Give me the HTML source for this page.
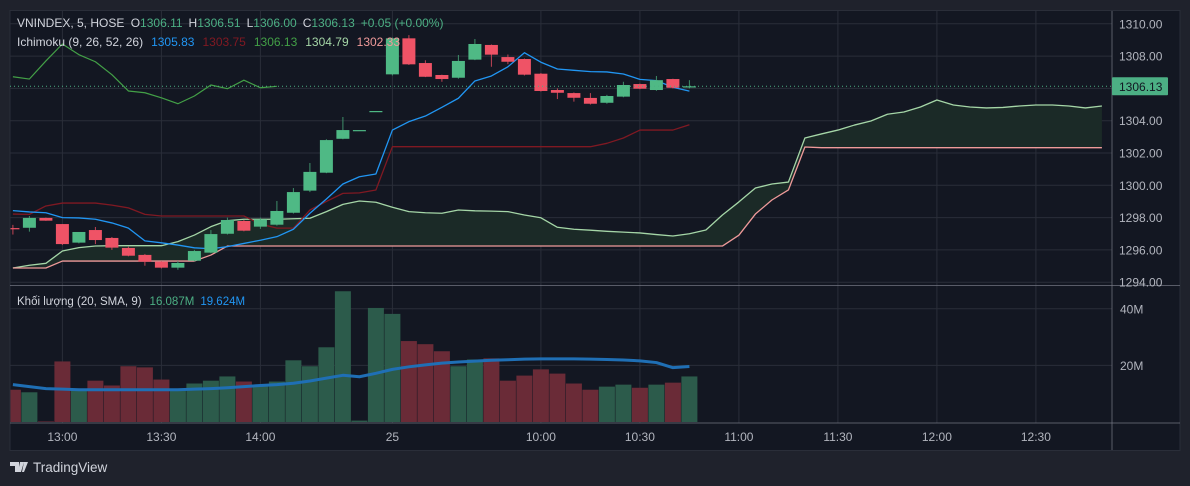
<!DOCTYPE html>
<html><head><meta charset="utf-8"><style>
html,body{margin:0;padding:0;background:#1f222c;width:1190px;height:486px;overflow:hidden;font-family:"Liberation Sans","Noto Sans CJK SC",sans-serif}
svg{display:block}
</style></head><body>
<svg id="c" width="1190" height="486" xmlns="http://www.w3.org/2000/svg">
<defs><clipPath id="plot"><rect x="10.5" y="11" width="1101" height="412"/></clipPath></defs>
<rect x="0" y="0" width="1190" height="486" fill="#1f222c"/>
<rect x="10" y="10.5" width="1170" height="440" fill="#131722" stroke="#2a2e39"/>
<g id="grid"></g>
<g clip-path="url(#plot)">
<g id="cloud"></g>
<g id="vol"></g>
<g id="lines"></g>
<g id="candles"></g>
</g>
<g id="axes"></g>
<g font-size="12">
<text x="17" y="27" fill="#d1d4dc">VNINDEX, 5, HOSE <tspan dx="3">O</tspan><tspan fill="#4caf84">1306.11</tspan><tspan dx="6">H</tspan><tspan fill="#4caf84">1306.51</tspan><tspan dx="6">L</tspan><tspan fill="#4caf84">1306.00</tspan><tspan dx="6">C</tspan><tspan fill="#4caf84">1306.13</tspan><tspan dx="6" fill="#4caf84">+0.05 (+0.00%)</tspan></text>
<text x="17" y="46" fill="#d1d4dc">Ichimoku (9, 26, 52, 26)<tspan dx="8" fill="#2196f3">1305.83</tspan><tspan dx="8" fill="#801922">1303.75</tspan><tspan dx="8" fill="#43a047">1306.13</tspan><tspan dx="8" fill="#a5d6a7">1304.79</tspan><tspan dx="8" fill="#ef9a9a">1302.33</tspan></text>
<text x="17" y="305" fill="#d1d4dc" font-size="11.5">Khối lượng (20, SMA, 9)<tspan dx="8" fill="#4caf84">16.087M</tspan><tspan dx="6" fill="#2196f3">19.624M</tspan></text>
</g>
<g>
<path d="M10 462h9v10h-4v-6h-5z M20 462h4l-3 10h-3z M24 462h4l-4 10h-2z" fill="#d1d4dc"/>
<text x="33" y="472" fill="#d1d4dc" font-size="13.5">TradingView</text>
</g>
</svg>
<script>
const opens=[1297.35,1297.37,1297.98,1297.60,1296.45,1297.23,1296.74,1296.12,1295.69,1295.27,1294.90,1295.33,1295.83,1297.00,1297.79,1297.44,1297.56,1298.30,1299.67,1300.78,1302.88,1303.42,1304.60,1306.87,1309.10,1307.57,1306.83,1306.66,1307.78,1308.69,1307.94,1307.82,1306.91,1305.90,1305.71,1305.41,1305.11,1305.49,1306.27,1305.90,1306.58,1306.11];
const highs=[1297.55,1298.10,1298.00,1297.60,1297.11,1297.42,1296.80,1296.20,1295.75,1295.30,1295.31,1296.00,1297.23,1298.00,1297.85,1298.00,1299.03,1299.83,1301.38,1302.85,1304.23,1303.42,1304.60,1309.15,1309.30,1307.74,1306.85,1308.07,1309.06,1308.72,1308.10,1307.85,1306.95,1306.00,1305.75,1305.71,1305.60,1306.41,1306.30,1306.77,1306.60,1306.51];
const lows=[1296.95,1297.13,1297.80,1296.30,1296.40,1296.36,1296.00,1295.60,1295.02,1294.85,1294.77,1295.30,1295.80,1296.95,1297.15,1297.30,1297.50,1298.25,1299.58,1300.75,1302.85,1303.42,1304.60,1306.80,1307.45,1306.70,1306.41,1306.60,1307.75,1307.34,1307.50,1306.80,1305.80,1305.34,1305.18,1305.00,1305.05,1305.45,1305.95,1305.85,1306.00,1306.00];
const closes=[1297.28,1297.98,1297.81,1296.36,1297.11,1296.61,1296.14,1295.64,1295.27,1294.90,1295.19,1295.93,1296.98,1297.85,1297.19,1297.89,1298.41,1299.58,1300.83,1302.80,1303.42,1303.42,1304.60,1309.10,1307.49,1306.72,1306.58,1307.70,1308.75,1308.09,1307.65,1306.85,1305.84,1305.73,1305.42,1305.05,1305.53,1306.21,1305.98,1306.51,1306.04,1306.13];
const volumes=[11.4,10.5,0.2,21.4,11.8,14.6,12.9,19.7,19.3,15.0,11.1,13.6,14.6,16.1,14.3,13.2,14.3,21.8,19.7,26.4,46.2,0.5,40.3,38.2,28.6,27.5,25.0,19.7,22.1,22.5,14.6,16.4,18.6,17.1,13.6,11.4,12.5,13.2,12.1,13.2,13.9,16.1];
const volUp=[0,1,0,0,1,0,0,0,0,0,1,1,1,1,0,1,1,1,1,1,1,1,1,1,0,0,0,1,1,0,0,0,0,0,0,0,1,1,0,1,0,1];
const volSma=[13.2,12.5,11.8,11.6,11.4,11.4,11.4,11.4,11.4,11.4,11.4,11.6,11.8,12.1,12.5,12.9,13.2,13.7,14.5,15.5,16.5,16.0,17.2,18.6,19.5,20.2,20.8,21.2,21.5,21.8,22.0,22.2,22.3,22.3,22.3,22.2,22.1,21.9,21.6,21.0,19.2,19.6];
const tenkan=[1298.43,1298.35,1298.30,1298.00,1297.98,1297.90,1297.67,1297.35,1296.56,1296.44,1296.30,1296.13,1296.07,1296.20,1296.40,1296.60,1296.82,1297.28,1298.27,1299.15,1300.08,1300.53,1300.70,1303.42,1303.94,1304.29,1304.83,1305.39,1306.46,1306.77,1307.34,1308.21,1307.62,1307.20,1307.12,1307.04,1307.02,1306.89,1306.56,1306.48,1306.07,1305.83];
const kijun=[1298.22,1298.20,1298.72,1298.90,1298.90,1298.90,1298.77,1298.60,1298.20,1298.10,1298.10,1298.10,1298.10,1298.10,1298.10,1297.60,1297.35,1297.35,1298.47,1299.00,1299.50,1299.53,1299.71,1302.39,1302.39,1302.39,1302.39,1302.39,1302.39,1302.39,1302.39,1302.39,1302.39,1302.39,1302.39,1302.39,1302.60,1302.93,1303.42,1303.42,1303.42,1303.75];
const senkouA=[1294.88,1295.05,1295.17,1295.93,1296.14,1296.24,1296.26,1296.26,1296.26,1296.26,1296.51,1296.92,1297.44,1297.81,1297.90,1297.90,1297.90,1297.93,1297.96,1298.37,1298.82,1299.03,1298.95,1298.64,1298.37,1298.30,1298.27,1298.47,1298.42,1298.40,1298.37,1298.16,1297.99,1297.40,1297.28,1297.22,1297.15,1297.10,1297.05,1296.95,1296.86,1297.00,1297.23,1298.16,1298.97,1299.83,1300.08,1300.20,1302.93,1303.18,1303.42,1303.73,1303.98,1304.40,1304.54,1304.85,1305.28,1304.97,1304.85,1304.79,1304.82,1304.91,1304.97,1304.97,1304.91,1304.79,1304.91];
const senkouB=[1294.88,1294.88,1294.88,1295.31,1295.31,1295.31,1295.31,1295.31,1295.31,1295.31,1295.31,1295.31,1295.68,1296.24,1296.24,1296.24,1296.24,1296.24,1296.24,1296.24,1296.24,1296.24,1296.24,1296.24,1296.24,1296.24,1296.24,1296.24,1296.24,1296.24,1296.24,1296.24,1296.24,1296.24,1296.24,1296.24,1296.24,1296.24,1296.24,1296.24,1296.24,1296.24,1296.24,1296.24,1296.91,1298.22,1299.09,1299.71,1302.37,1302.33,1302.33,1302.33,1302.33,1302.33,1302.33,1302.33,1302.33,1302.33,1302.33,1302.33,1302.33,1302.33,1302.33,1302.33,1302.33,1302.33,1302.33];
const priceTicks=[1310,1308,1306,1304,1302,1300,1298,1296,1294];
const volTicks=[40,20];
const timeLabels=["13:00","13:30","14:00","25","10:00","10:30","11:00","11:30","12:00","12:30"];
const timeIdx=[3,9,15,23,32,38,44,50,56,62];
const lastPrice=1306.13;

const NS="http://www.w3.org/2000/svg";
const X=i=>12.9+16.5*i;
const Y=p=>120.7+(1304-p)*16.15;
const VY=v=>422-v*2.83;
function mk(parent,tag,attrs){const e=document.createElementNS(NS,tag);for(const k in attrs)e.setAttribute(k,attrs[k]);document.getElementById(parent).appendChild(e);return e;}
const PL=10,PR=1112;
priceTicks.forEach(p=>{const e=mk('grid','line',{x1:PL,x2:PR,y1:Y(p),y2:Y(p),stroke:'#2a2e39'});

});
volTicks.forEach(v=>{const e=mk('grid','line',{x1:PL,x2:PR,y1:VY(v),y2:VY(v),stroke:'#2a2e39'});

});
timeIdx.forEach(i=>{const e=mk('grid','line',{x1:X(i),x2:X(i),y1:11,y2:423,stroke:'#2a2e39'});

});
const cloudTop=senkouA.map((v,i)=>X(i)+','+Y(v)).join(' ');
const cloudBot=senkouB.map((v,i)=>X(i)+','+Y(v)).reverse().join(' ');
const cf=mk('cloud','polygon',{points:cloudTop+' '+cloudBot,fill:'#1b2a27'});


function pl(arr,off,color,w,name,g){const pts=arr.map((v,i)=>X(i+off)+','+(g==='vol'?VY(v):Y(v))).join(' ');const e=mk(g||'lines','polyline',{points:pts,fill:'none',stroke:color,'stroke-width':w,'stroke-linejoin':'round'});

return e;}
pl(senkouA,0,'#a5d6a7',1.3,'senkou-span-a');
pl(senkouB,0,'#ef9a9a',1.3,'senkou-span-b');
volumes.forEach((v,i)=>{const e=mk('vol','rect',{x:X(i)-8,y:VY(v),width:16,height:422-VY(v),fill:volUp[i]?'#2c5b4b':'#6a2b37'});

});
pl(volSma,0,'#1f6fb5',3,'volume-sma-line','vol');
pl(closes.slice(25),0,'#43a047',1.2,'chikou-span');
pl(kijun,0,'#801922',1.3,'kijun-sen');
pl(tenkan,0,'#2196f3',1.3,'tenkan-sen');
opens.forEach((o,i)=>{const c=closes[i],up=c>=o,col=up?'#4fb985':'#ef5366';
const w=mk('candles','line',{x1:X(i),x2:X(i),y1:Y(highs[i]),y2:Y(lows[i]),stroke:up?'#3f8f6a':'#c04455'});


const y1=Y(Math.max(o,c)),h=Math.max(1.2,Math.abs(Y(o)-Y(c)));
const b=mk('candles','rect',{x:X(i)-6.5,y:y1,width:13,height:h,fill:col});

});
const lp=mk('axes','line',{x1:PL,x2:PR,y1:Y(lastPrice),y2:Y(lastPrice),stroke:'#4caf84','stroke-dasharray':'1 3'});


[[PR,11,PR,450],[PL,285.5,1180,285.5],[PL,423,1180,423]].forEach(a=>{const e=mk('axes','line',{x1:a[0],y1:a[1],x2:a[2],y2:a[3],stroke:'#787b86','stroke-opacity':0.7});

});
priceTicks.forEach(p=>{const t=mk('axes','text',{x:1119,y:Y(p)+4.5,fill:'#b2b5be','font-size':12});t.textContent=p.toFixed(2);

});
volTicks.forEach(v=>{const t=mk('axes','text',{x:1120,y:VY(v)+4.5,fill:'#b2b5be','font-size':12});t.textContent=v+'M';

});
timeLabels.forEach((s,k)=>{const t=mk('axes','text',{x:X(timeIdx[k]),y:441,fill:'#b2b5be','font-size':12,'text-anchor':'middle'});t.textContent=s;

});
const pb=mk('axes','rect',{x:1112,y:Y(lastPrice)-9,width:56,height:18,fill:'#4caf84',rx:1});


const pt=mk('axes','text',{x:1119,y:Y(lastPrice)+4.5,fill:'#131722','font-size':12});pt.textContent=lastPrice.toFixed(2);


</script>
</body></html>
